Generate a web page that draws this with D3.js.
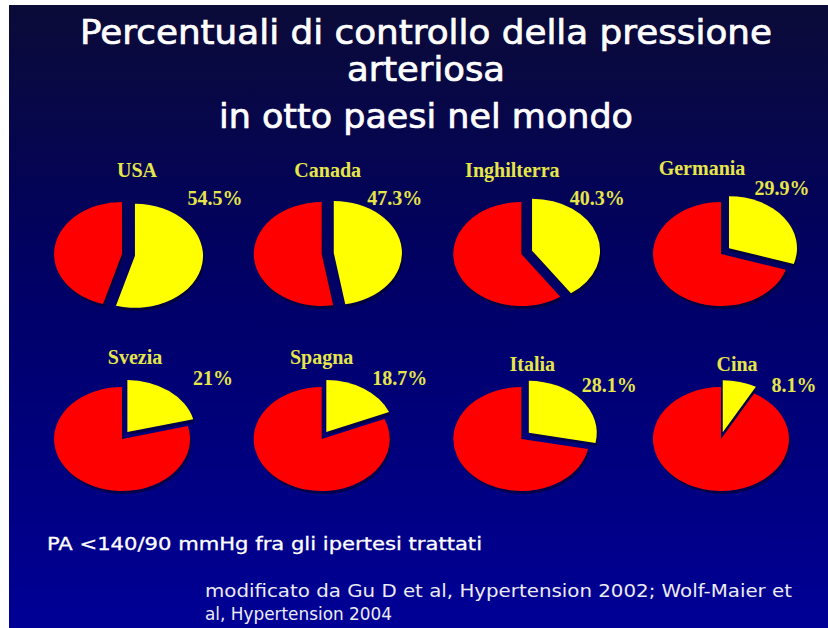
<!DOCTYPE html>
<html>
<head>
<meta charset="utf-8">
<script src="https://cdn.jsdelivr.net/npm/d3@7"></script>
<style>
	html, body { margin: 0; padding: 0; background: #fff; }
	svg { display: block; }
</style>
</head>
<body>
<svg id="chart" width="828" height="628"></svg>
<script>
	// chart data
	var countries = ["USA", "Canada", "Inghilterra", "Germania", "Svezia", "Spagna", "Italia", "Cina"];
	var controlled = [54.5, 47.3, 40.3, 29.9, 21, 18.7, 28.1, 8.1];
	var pctLabels = ["54.5%", "47.3%", "40.3%", "29.9%", "21%", "18.7%", "28.1%", "8.1%"];

	var titleLines = ["Percentuali di controllo della pressione", "arteriosa", "in otto paesi nel mondo"];
	var footnote = "PA <140/90 mmHg fra gli ipertesi trattati";
	var sourceLines = ["modificato da Gu D et al, Hypertension 2002; Wolf-Maier et", "al, Hypertension 2004"];

	// label nudges relative to each pie centre (layout only)
	var nameNudge = [[15, -84], [6, -84], [-9, -84], [-19, -86], [13, -82], [0, -82], [11, -75], [16, -75]];
	var pctNudge = [[93, -56], [73, -56], [76, -56], [61, -66], [91, -61], [78, -61], [88, -54], [73, -54]];

	var W = 828, H = 628;
	var svg = d3.select("#chart");

	var grad = svg.append("defs").append("linearGradient")
		.attr("id", "bg").attr("x1", 0).attr("y1", 0).attr("x2", 0).attr("y2", 1);
	grad.append("stop").attr("offset", "0%").attr("stop-color", "#0b0b38");
	grad.append("stop").attr("offset", "45%").attr("stop-color", "#000066");
	grad.append("stop").attr("offset", "100%").attr("stop-color", "#000096");

	// white margin on the left and top like the slide capture
	svg.append("rect").attr("x", 9).attr("y", 5).attr("width", W - 9).attr("height", H - 5).attr("fill", "url(#bg)");

	// title (widths stretched to the original comic-style lettering)
	var titleY = [44, 81, 128];
	var titleW = [692, 158, 414];
	svg.selectAll("text.title")
		.data(titleLines)
	  .enter().append("text")
		.attr("class", "title")
		.attr("x", 426)
		.attr("y", function(d, i){ return titleY[i]; })
		.attr("text-anchor", "middle")
		.attr("textLength", function(d, i){ return titleW[i]; })
		.attr("lengthAdjust", "spacingAndGlyphs")
		.style("font-family", "'DejaVu Sans', sans-serif")
		.style("font-size", "33px")
		.style("fill", "#ffffff")
		.style("stroke", "#ffffff")
		.style("stroke-width", "0.7px")
		.text(function(d){ return d; });

	// pies
	var colX = d3.scalePoint().domain([0, 1, 2, 3]).range([122, 721]);
	var rowY = d3.scalePoint().domain([0, 1]).range([254, 439]);
	var rx = 68, ry = 52;

	var pie = d3.pie().sort(null).value(function(d){ return d.v; });
	var arc = d3.arc().innerRadius(0).outerRadius(1);

	countries.forEach(function(name, i){
		var cx = colX(i % 4), cy = rowY(Math.floor(i / 4));
		var slices = pie([{k: "ctrl", v: controlled[i]}, {k: "rest", v: 100 - controlled[i]}]);
		var off = 6 + controlled[i] * 0.13;

		var g = svg.append("g").attr("transform", "translate(" + cx + "," + cy + ")");

		function shift(s){
			if (s.data.k != "ctrl") return [0, 0];
			var mid = (s.startAngle + s.endAngle) / 2;
			return [off * Math.sin(mid), -off * Math.cos(mid)];
		}

		// soft shadow under the slices
		g.selectAll("path.shadow")
			.data(slices)
		  .enter().append("path")
			.attr("class", "shadow")
			.attr("d", arc)
			.attr("transform", function(s){
				var o = shift(s);
				return "translate(" + (o[0] + 1.5) + "," + (o[1] + 3) + ") scale(" + rx + "," + ry + ")";
			})
			.attr("fill", "#00002a")
			.attr("opacity", 0.6);

		g.selectAll("path.slice")
			.data(slices)
		  .enter().append("path")
			.attr("class", "slice")
			.attr("d", arc)
			.attr("transform", function(s){
				var o = shift(s);
				return "translate(" + o[0] + "," + o[1] + ") scale(" + rx + "," + ry + ")";
			})
			.attr("fill", function(s){ return s.data.k == "ctrl" ? "#ffff00" : "#ff0000"; });

		g.append("text")
			.attr("x", nameNudge[i][0])
			.attr("y", nameNudge[i][1])
			.attr("text-anchor", "middle")
			.attr("dominant-baseline", "central")
			.style("font-family", "'Liberation Serif', serif")
			.style("font-weight", "bold")
			.style("font-size", "20px")
			.style("fill", "#e6e64a")
			.text(name);

		g.append("text")
			.attr("x", pctNudge[i][0])
			.attr("y", pctNudge[i][1])
			.attr("text-anchor", "middle")
			.attr("dominant-baseline", "central")
			.style("font-family", "'Liberation Serif', serif")
			.style("font-weight", "bold")
			.style("font-size", "20px")
			.style("fill", "#e6e64a")
			.text(pctLabels[i]);
	});

	// footnotes
	svg.append("text")
		.attr("x", 47)
		.attr("y", 550)
		.attr("textLength", 435)
		.attr("lengthAdjust", "spacingAndGlyphs")
		.style("font-family", "'DejaVu Sans', sans-serif")
		.style("font-size", "18px")
		.style("fill", "#ffffff")
		.style("stroke", "#ffffff")
		.style("stroke-width", "0.3px")
		.text(footnote);

	var sourceW = [587, 187];
	svg.selectAll("text.source")
		.data(sourceLines)
	  .enter().append("text")
		.attr("class", "source")
		.attr("x", 205)
		.attr("y", function(d, i){ return 597 + i * 23; })
		.attr("textLength", function(d, i){ return sourceW[i]; })
		.attr("lengthAdjust", "spacingAndGlyphs")
		.style("font-family", "'DejaVu Sans', sans-serif")
		.style("font-size", "18px")
		.style("fill", "#ececf4")
		.text(function(d){ return d; });
</script>
</body>
</html>
